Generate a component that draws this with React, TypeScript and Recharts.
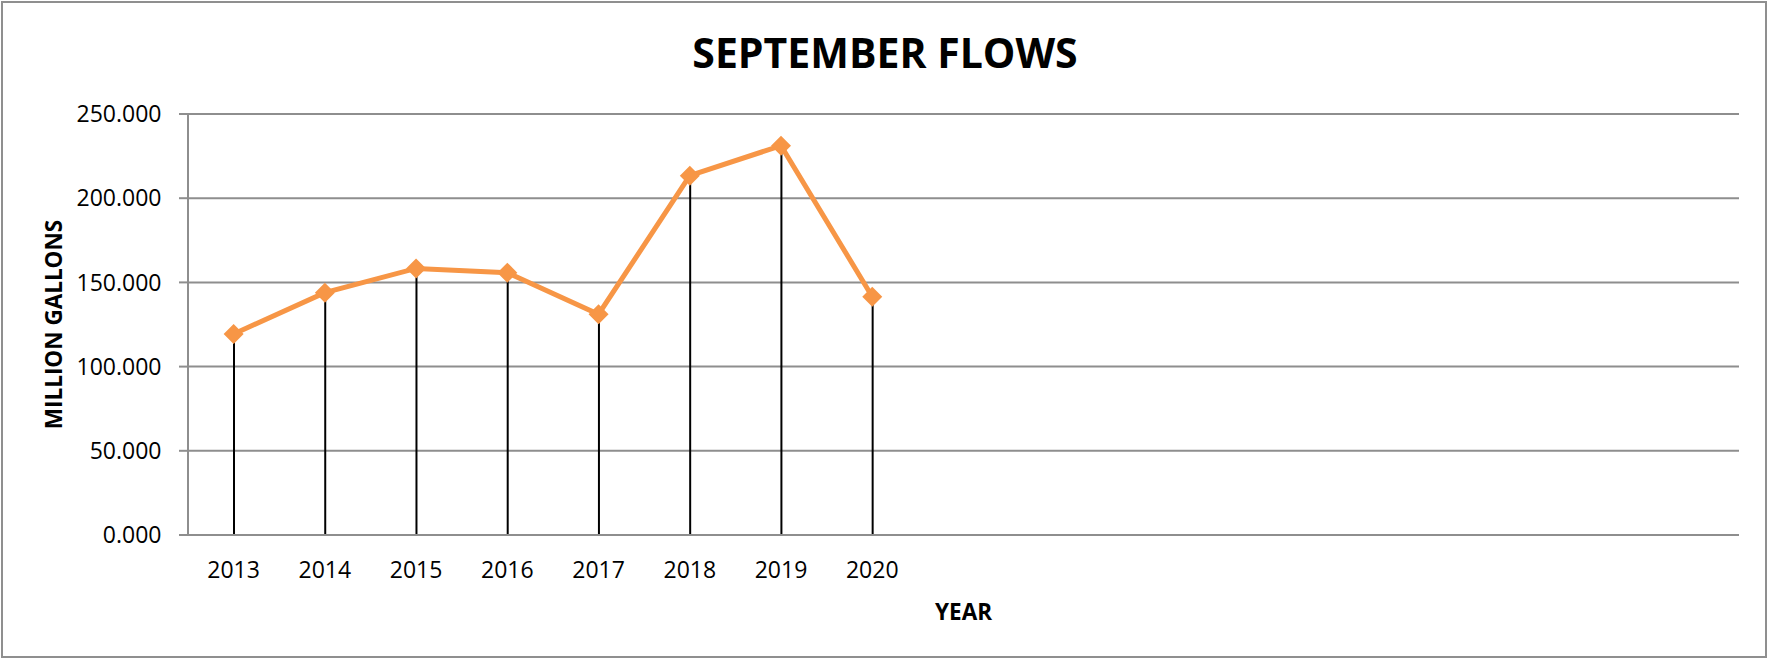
import { ComposedChart, Line, Bar, XAxis, YAxis, CartesianGrid } from "recharts"

// september flows, million gallons
const years = ["2013", "2014", "2015", "2016", "2017", "2018", "2019", "2020"]
const flows = [119.4, 143.9, 158.3, 155.8, 131.1, 213.4, 231.2, 141.5]
// the sheet range runs 17 rows, later years still empty
const slotCount = 17
const yTicks = [0, 50, 100, 150, 200, 250]

const data = Array.from({ length: slotCount }, (_, i) => ({
  slot: i,
  year: years[i] ?? "",
  flow: flows[i] ?? null,
}))

const ORANGE = "#F79646"
const GRID = "#8E8E8E"
const FONT = "'Open Sans', 'Noto Sans', sans-serif"

function Diamond(props: any) {
  const { cx, cy } = props
  if (cx == null || cy == null || props.value == null) return null
  const r = 10
  return (
    <path
      d={`M${cx},${cy - r} L${cx + r},${cy} L${cx},${cy + r} L${cx - r},${cy} Z`}
      fill={ORANGE}
    />
  )
}

export default function App() {
  return (
    <div style={{ position: "absolute", left: 0, top: 0, width: 1769, height: 659, background: "#fff" }}>
      <div
        style={{
          position: "absolute",
          left: 1,
          top: 1,
          width: 1766,
          height: 657,
          border: "2px solid #8f8f8f",
          boxSizing: "border-box",
        }}
      />
      <ComposedChart
        width={1769}
        height={659}
        data={data}
        margin={{ top: 114, right: 30, left: 0, bottom: 0 }}
        style={{ position: "absolute", left: 0, top: 0 }}
      >
        <text x={885} y={68.3} textAnchor="middle" fontFamily={FONT} fontWeight={700} fontSize={41} fill="#000">
          SEPTEMBER FLOWS
        </text>
        <CartesianGrid vertical={false} stroke={GRID} strokeWidth={2} />
        <XAxis
          dataKey="slot"
          type="category"
          height={124}
          tickFormatter={(i: number) => data[i]?.year ?? ""}
          interval={0}
          tickLine={false}
          tickSize={0}
          tickMargin={27}
          axisLine={{ stroke: GRID, strokeWidth: 2 }}
          tick={{ fill: "#000", fontSize: 23, fontFamily: FONT }}
          label={{
            content: (p: any) => {
              const vb = p.viewBox
              return (
                <text
                  x={vb.x + vb.width / 2}
                  y={619.5}
                  textAnchor="middle"
                  fontFamily={FONT}
                  fontWeight={700}
                  fontSize={22.5}
                  fill="#000"
                >
                  YEAR
                </text>
              )
            },
          }}
        />
        <YAxis
          width={188}
          domain={[0, 250]}
          ticks={yTicks}
          interval={0}
          tickFormatter={(v: number) => v.toFixed(3)}
          tickSize={9}
          tickMargin={17.5}
          tickLine={{ stroke: GRID, strokeWidth: 2 }}
          axisLine={{ stroke: GRID, strokeWidth: 2 }}
          tick={{ fill: "#000", fontSize: 23, fontFamily: FONT }}
          label={{
            content: (p: any) => {
              const vb = p.viewBox
              const cx = vb.x + 53
              const cy = vb.y + vb.height / 2
              return (
                <text
                  x={cx}
                  y={cy}
                  transform={`rotate(-90, ${cx}, ${cy})`}
                  textAnchor="middle"
                  dominantBaseline="central"
                  fontFamily={FONT}
                  fontWeight={700}
                  fontSize={22.5}
                  fill="#000"
                >
                  MILLION GALLONS
                </text>
              )
            },
          }}
        />
        {/* drop lines down to the axis */}
        <Bar dataKey="flow" barSize={2} fill="#000" isAnimationActive={false} />
        <Line
          dataKey="flow"
          stroke={ORANGE}
          strokeWidth={5}
          dot={<Diamond />}
          activeDot={false}
          connectNulls={false}
          isAnimationActive={false}
        />
      </ComposedChart>
    </div>
  )
}
